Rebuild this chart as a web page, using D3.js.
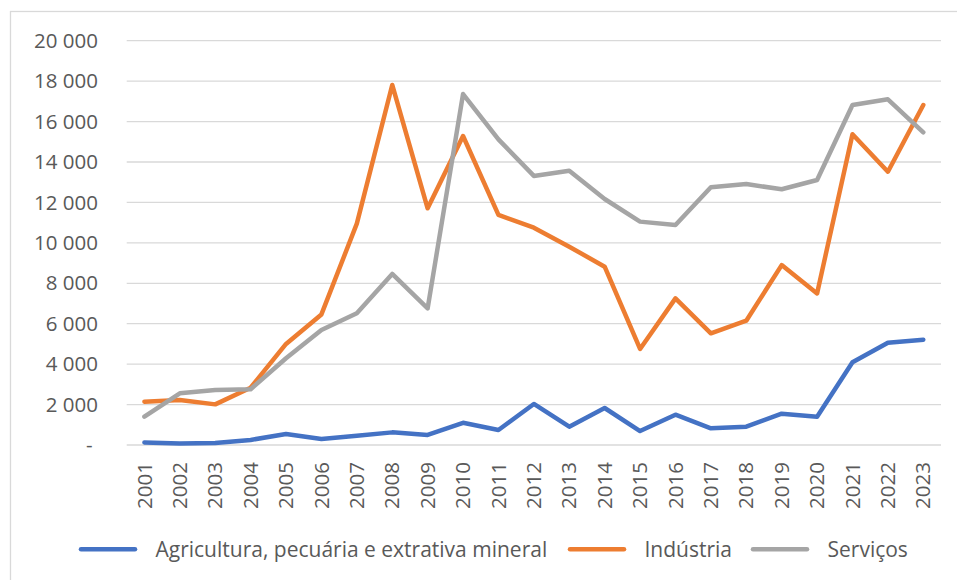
<!DOCTYPE html>
<html>
<head>
    <meta charset="utf-8">
    <title>Agricultura, Indústria, Serviços</title>
    <script type="text/javascript" src="https://cdn.jsdelivr.net/npm/d3@7"></script>
    <style type="text/css">
        body {
            margin: 0;
            background: #fff;
        }

        svg text {
            font-family: "Open Sans", "Noto Sans", sans-serif;
            fill: #595959;
        }

        .grid line {
            stroke: #d9d9d9;
            stroke-width: 1.3;
        }

        .series {
            fill: none;
            stroke-width: 4.5;
            stroke-linejoin: round;
            stroke-linecap: round;
        }
    </style>
</head>
<body>

<script type="text/javascript">
    var years = ["2001", "2002", "2003", "2004", "2005", "2006", "2007", "2008", "2009", "2010", "2011", "2012",
        "2013", "2014", "2015", "2016", "2017", "2018", "2019", "2020", "2021", "2022", "2023"];

    var agricultura = [120, 80, 100, 250, 545, 300, 460, 625, 495, 1100, 740, 2030,
        905, 1830, 690, 1500, 825, 905, 1550, 1400, 4090, 5060, 5210];

    var industria = [2140, 2225, 2010, 2835, 5000, 6460, 10950, 17810, 11710, 15285, 11380, 10750,
        9810, 8820, 4750, 7255, 5525, 6150, 8900, 7500, 15370, 13520, 16820];

    var servicos = [1400, 2555, 2720, 2755, 4290, 5690, 6515, 8460, 6760, 17360, 15120, 13310,
        13570, 12170, 11050, 10880, 12750, 12910, 12650, 13110, 16820, 17100, 15470];

    var seriesNames = ["Agricultura, pecuária e extrativa mineral", "Indústria", "Serviços"];
    var seriesColors = ["#4472c4", "#ed7d31", "#a5a5a5"];
    var yTicks = [0, 2000, 4000, 6000, 8000, 10000, 12000, 14000, 16000, 18000, 20000];

    var w = 957, h = 580,
        fontSize = 20.5,
        legendFont = 21;

    var svg = d3.select("body")
        .append("svg")
            .attr("width", w)
            .attr("height", h);

    // chart frame, runs off the right and bottom edges like the original
    svg.append("rect")
        .attr("x", 10.5)
        .attr("y", 11.5)
        .attr("width", w)
        .attr("height", h)
        .style("fill", "none")
        .style("stroke", "#d9d9d9")
        .style("stroke-width", 1.3);

    var x = d3.scaleBand()
        .domain(years)
        .range([126.7, 941]);

    var y = d3.scaleLinear()
        .domain([0, 20000])
        .range([445, 40.7]);

    var fmt = function (d) {
        return d === 0 ? "-" : d3.format(",")(d).replace(/,/g, " ");
    };

    // gridlines
    svg.append("g")
        .attr("class", "grid")
        .selectAll("line")
        .data(yTicks)
        .enter().append("line")
            .attr("x1", x.range()[0])
            .attr("x2", x.range()[1])
            .attr("y1", function (d) {return y(d);})
            .attr("y2", function (d) {return y(d);});

    // y labels
    svg.append("g")
        .selectAll("text")
        .data(yTicks)
        .enter().append("text")
            .attr("x", function (d) {return d === 0 ? 92.5 : 98;})
            .attr("y", function (d) {return y(d);})
            .attr("dy", "0.35em")
            .attr("text-anchor", "end")
            .style("font-size", fontSize + "px")
            .text(fmt);

    // x labels, rotated
    svg.append("g")
        .selectAll("text")
        .data(years)
        .enter().append("text")
            .attr("transform", function (d) {
                return "translate(" + (x(d) + x.bandwidth() / 2) + "," + (y(0) + 17) + ") rotate(-90)";
            })
            .attr("dy", "0.35em")
            .attr("text-anchor", "end")
            .style("font-size", fontSize + "px")
            .text(function (d) {return d;});

    var line = d3.line()
        .x(function (d, i) {return x(years[i]) + x.bandwidth() / 2;})
        .y(function (d) {return y(d);});

    [agricultura, industria, servicos].forEach(function (values, i) {
        svg.append("path")
            .datum(values)
            .attr("class", "series")
            .style("stroke", seriesColors[i])
            .attr("d", line);
    });

    // legend
    var legendY = 549.3,
        legendX = [81, 570, 753];

    seriesNames.forEach(function (name, i) {
        var g = svg.append("g")
            .attr("transform", "translate(" + legendX[i] + "," + legendY + ")");
        g.append("line")
            .attr("x1", 0)
            .attr("x2", 54)
            .style("stroke", seriesColors[i])
            .style("stroke-width", 4.5)
            .style("stroke-linecap", "round");
        g.append("text")
            .attr("x", 74.5)
            .attr("dy", "0.35em")
            .style("font-size", legendFont + "px")
            .text(name);
    });
</script>

</body>
</html>
